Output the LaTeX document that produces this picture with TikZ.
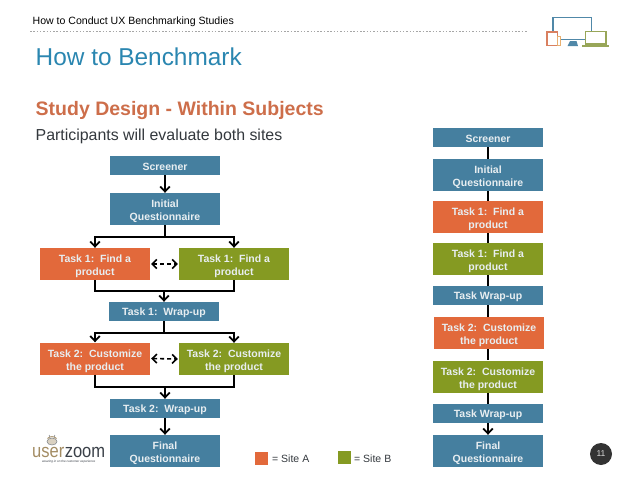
\documentclass[tikz,border=0pt]{standalone}
\usepackage{fontspec}
\setmainfont{Liberation Sans}
\newfontfamily\logofont[FakeStretch=0.87]{Liberation Sans}
\usetikzlibrary{arrows.meta,calc}
\newcommand{\lowerstrut}{\rule{0pt}{12.5pt}}
\definecolor{bbox}{HTML}{457F9F}
\definecolor{obox}{HTML}{E2693B}
\definecolor{gbox}{HTML}{859A22}
\definecolor{titleblue}{HTML}{2A86B0}
\definecolor{headorange}{HTML}{CD6E4A}
\definecolor{boxtext}{HTML}{E8EEF1}
\definecolor{bodytext}{HTML}{33383D}
\definecolor{logotan}{HTML}{A38C63}
\definecolor{logodark}{HTML}{3A4048}
\definecolor{iconblue}{HTML}{5088A8}
\definecolor{iconorange}{HTML}{D98060}
\definecolor{iconyellow}{HTML}{E8B070}
\definecolor{icongreen}{HTML}{98A658}
\tikzset{
  x=1pt,y=-1pt,
  flow/.style={text=boxtext,font=\fontsize{10.5}{13}\selectfont\bfseries,align=center,inner sep=0pt,minimum width=110pt,anchor=center},
  one/.style={flow,minimum height=19pt,execute at begin node={\rule{0pt}{10.5pt}}},
  two/.style={flow,minimum height=32pt},
  blue/.style={fill=bbox},
  orange/.style={fill=obox},
  green/.style={fill=gbox},
  conn/.style={line width=2pt,black},
  arr/.style={conn,-{Straight Barb[length=5pt,width=9.5pt,line width=1.8pt]}},
  dbl/.style={line width=1.6pt,dash pattern=on 4pt off 3pt,{Straight Barb[length=4.5pt,width=9pt]}-{Straight Barb[length=4.5pt,width=9pt]}},
  plain/.style={inner sep=0pt,anchor=base west}
}
\begin{document}
\begin{tikzpicture}
\useasboundingbox (0,0) rectangle (638,479);
% header
\node[plain,font=\fontsize{10.55}{12}\selectfont,text=black] (hdr) at (32.5,24) {How to Conduct UX Benchmarking Studies};
\draw[black!35,line width=0.6pt,dash pattern=on 1.5pt off 1.8pt] (30,31.5) -- (527,31.5);
\node[plain,font=\fontsize{24.4}{30}\selectfont,text=titleblue] (ttl) at (35.5,65.5) {How to Benchmark};
\node[plain,font=\fontsize{19.5}{24}\selectfont\bfseries,text=headorange] (sub) at (35.5,115) {Study Design - Within Subjects};
\node[plain,font=\fontsize{15.9}{20}\selectfont,text=bodytext] (par) at (35.5,140) {Participants will evaluate both sites};
% left flow
\node[one,blue] (s) at (165,165.5) {Screener};
\node[two,blue] (iq) at (165,209) {\lowerstrut Initial\\Questionnaire};
\node[two,orange] (t1a) at (95,264) {\lowerstrut Task 1:\ \ Find a\\product};
\node[two,green] (t1b) at (234,264) {\lowerstrut Task 1:\ \ Find a\\product};
\node[one,blue] (w1) at (164,311.5) {Task 1:\ \ Wrap-up};
\node[two,orange] (t2a) at (95,358.5) {\lowerstrut Task 2:\ \ Customize\\the product};
\node[two,green] (t2b) at (234,359) {\lowerstrut Task 2:\ \ Customize\\the product};
\node[one,blue] (w2) at (165,408.5) {Task 2:\ \ Wrap-up};
\node[two,blue] (f) at (165,451) {\lowerstrut Final\\Questionnaire};
\coordinate (j1) at ($(iq.south)+(0,12)$);
\coordinate (j2) at ($(w1.north)+(0,-11)$);
\coordinate (j3) at ($(w1.south)+(0,11.5)$);
\coordinate (j4) at ($(w2.north)+(0,-12)$);
\draw[arr] (s) -- (iq);
\draw[conn] (iq) -- (j1);
\draw[arr] (j1) -| (t1a.north);
\draw[arr] (j1) -| (t1b.north);
\draw[conn] (t1a.south) |- (j2);
\draw[conn] (t1b.south) |- (j2);
\draw[arr] (j2) -- (w1.north);
\draw[conn] (w1.south) -- (j3);
\draw[arr] (j3) -| (t2a.north);
\draw[arr] (j3) -| (t2b.north);
\draw[conn] (t2a.south) |- (j4);
\draw[conn] (t2b.south) |- (j4);
\draw[arr] (j4) -- (w2.north);
\draw[arr] (w2) -- (f);
\draw[dbl] ($(t1a.east)+(1,0)$) -- ($(t1b.west)+(-1,0)$);
\draw[dbl] ($(t2a.east)+(1,0)$) -- ($(t2b.west)+(-1,0)$);
% right flow
\node[one,blue] (rs) at (488,137.5) {Screener};
\node[two,blue] (riq) at (488,175) {\lowerstrut Initial\\Questionnaire};
\node[two,orange] (rt1a) at (488,217) {\lowerstrut Task 1:\ \ Find a\\product};
\node[two,green] (rt1b) at (488,259) {\lowerstrut Task 1:\ \ Find a\\product};
\node[one,blue] (rw1) at (488,295.5) {Task Wrap-up};
\node[two,orange] (rt2a) at (489,333) {\lowerstrut Task 2:\ \ Customize\\the product};
\node[two,green] (rt2b) at (488,376.5) {\lowerstrut Task 2:\ \ Customize\\the product};
\node[one,blue] (rw2) at (488,413.5) {Task Wrap-up};
\node[two,blue] (rf) at (488,451) {\lowerstrut Final\\Questionnaire};
\draw[conn] (rs) -- (riq);
\draw[conn] (riq) -- (rt1a);
\draw[conn] (rt1a) -- (rt1b);
\draw[conn] (rt1b) -- (rw1);
\draw[conn] (rw1.south) -- (rw1.south|-rt2a.north);
\draw[conn] (rw1.south|-rt2a.south) -- (rt2b.north);
\draw[conn] (rt2b) -- (rw2);
\draw[arr] (rw2) -- (rf);
% legend
\node[fill=obox,minimum size=13pt,inner sep=0pt] (la) at (261.5,458) {};
\node[plain,font=\fontsize{10.5}{12}\selectfont,text=bodytext] (lat) at (272,462) {= Site A};
\node[fill=gbox,minimum size=13pt,inner sep=0pt] (lb) at (344.5,457.5) {};
\node[plain,font=\fontsize{10.5}{12}\selectfont,text=bodytext] (lbt) at (354,462) {= Site B};
% page number
\node[circle,fill=black!80,minimum size=22pt,inner sep=0pt,text=white!85!black,font=\fontsize{8.5}{10}\selectfont] (pg) at (601,454) {11};
% logo
\node[plain,font=\logofont\fontsize{19}{22}\selectfont,text=logotan] (lg1) at (32,457) {user};
\node[plain,font=\logofont\fontsize{19}{22}\selectfont,text=logodark] (lg2) at (lg1.base east) {zoom};
\node[plain,font=\fontsize{3.1}{4}\selectfont\itshape,text=logodark] (lg3) at (42,462) {wearing in on the customer experience};
\draw[logodark!60,line width=0.6pt,fill=logotan!40] (52,441.5) ellipse (5pt and 3.5pt);
\draw[logotan,line width=0.9pt] (47.5,438.5) .. controls (50,436) and (54,436) .. (56.5,438.5);
\draw[logodark!70,line width=0.5pt] (50,437) -- (49,435) (54,437) -- (55,435);
% device icon
\draw[iconblue,line width=1.5pt] (553,38) -- (553,17.5) -- (591.5,17.5) -- (591.5,31);
\draw[iconblue,line width=1.5pt] (558,39.5) -- (585,39.5);
\fill[iconblue] (570,41) -- (576.5,41) -- (578,46) -- (567.5,46) -- cycle;
\draw[iconorange,line width=1.1pt,fill=white] (547,32) rectangle (557.5,45.5);
\draw[iconyellow,line width=1pt,fill=white] (557,36.5) rectangle (560.5,45);
\draw[icongreen,line width=1.1pt,fill=white] (585.5,31.5) rectangle (606,44);
\draw[icongreen,line width=1.4pt] (582,46) -- (609,46);
\end{tikzpicture}
\end{document}
